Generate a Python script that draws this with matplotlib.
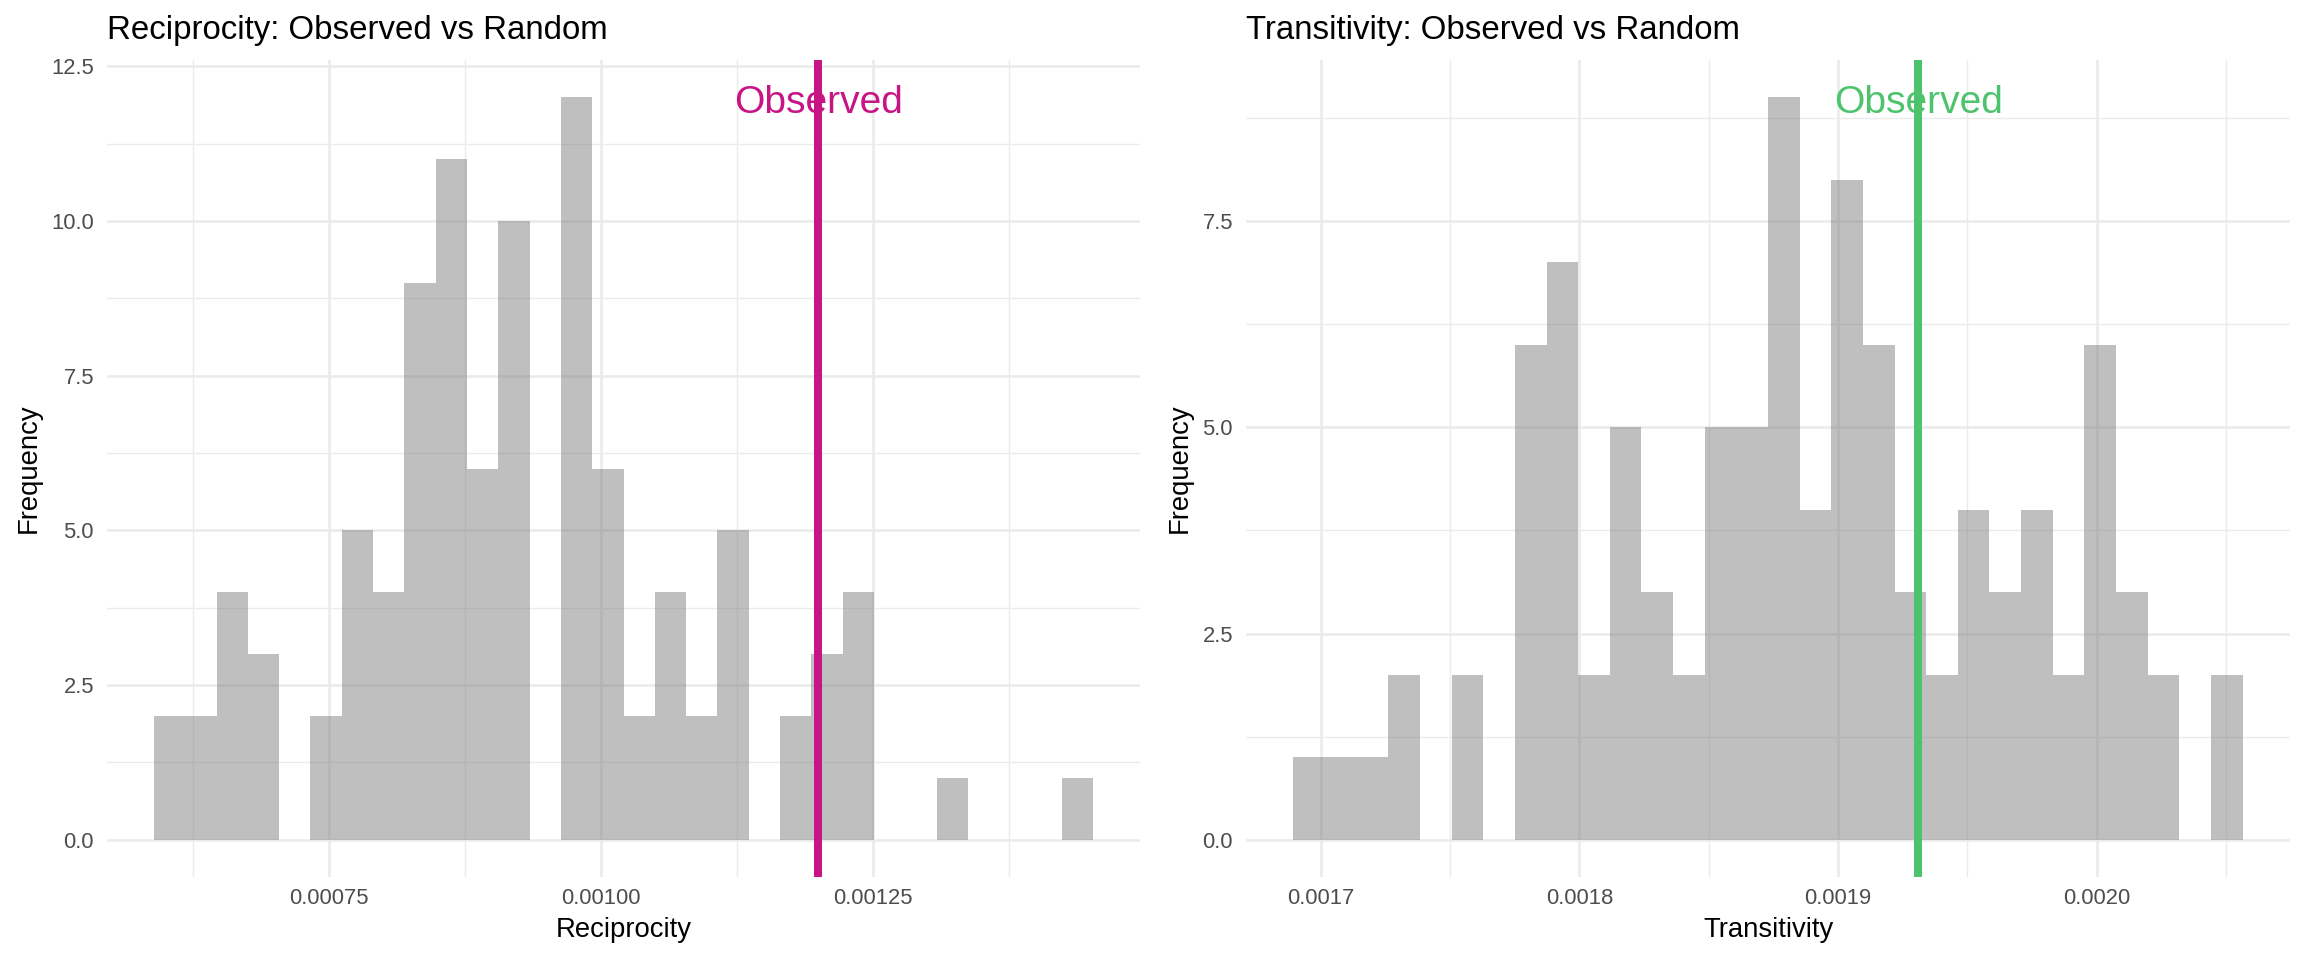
import numpy as np
import matplotlib
matplotlib.use("Agg")
import matplotlib.pyplot as plt
from matplotlib.ticker import MultipleLocator, FormatStrFormatter

plt.rcParams['font.family'] = ['Liberation Sans', 'DejaVu Sans']

# ---------------------------- data ----------------------------
# reciprocity histogram: 30 bins
recip_start = 0.0005894
recip_width = 2.8777e-5
recip_counts = [2, 2, 4, 3, 0, 2, 5, 4, 9, 11, 6, 10, 0, 12, 6,
                2, 4, 2, 5, 0, 2, 3, 4, 0, 0, 1, 0, 0, 0, 1]
recip_observed = 0.0012

# transitivity histogram: 30 bins
trans_start = 0.0016895
trans_width = 1.2227e-5
trans_counts = [1, 1, 1, 2, 0, 2, 0, 6, 7, 2, 5, 3, 2, 5, 5,
                9, 4, 8, 6, 3, 2, 4, 3, 4, 2, 6, 3, 2, 0, 2]
trans_observed = 0.001931

panels = [
    dict(title="Reciprocity: Observed vs Random", xlabel="Reciprocity",
         start=recip_start, width=recip_width, counts=recip_counts,
         obs=recip_observed, color="#C71585", xmajor=0.00025, xfmt="%.5f"),
    dict(title="Transitivity: Observed vs Random", xlabel="Transitivity",
         start=trans_start, width=trans_width, counts=trans_counts,
         obs=trans_observed, color="#4DC36E", xmajor=0.0001, xfmt="%.4f"),
]

# ---------------------------- figure ----------------------------
fig = plt.figure(figsize=(12.8, 960 / 180), dpi=180)
W, H = 2304, 960
boxes = [(107, 60, 1140, 877), (1246, 60, 2290, 877)]

for p, (x0, y0, x1, y1) in zip(panels, boxes):
    ax = fig.add_axes([x0 / W, 1 - y1 / H, (x1 - x0) / W, (y1 - y0) / H])
    counts = np.array(p["counts"])
    edges = p["start"] + p["width"] * np.arange(len(counts) + 1)

    ax.bar(edges[:-1], counts, width=p["width"], align="edge",
           color="gray", alpha=0.5, linewidth=0, zorder=2)
    ax.axvline(p["obs"], color=p["color"], linewidth=3.2, zorder=3)
    ax.annotate("Observed", (p["obs"], counts.max()), xytext=(0, -2.2),
                textcoords="offset points", color=p["color"],
                fontsize=15.6, ha="center", va="center", zorder=4)

    # ggplot-like expansion
    xr = edges[-1] - edges[0]
    ax.set_xlim(edges[0] - 0.05 * xr, edges[-1] + 0.05 * xr)
    ymax = counts.max()
    ax.set_ylim(-0.05 * ymax, 1.05 * ymax)

    ax.xaxis.set_major_locator(MultipleLocator(p["xmajor"]))
    ax.xaxis.set_minor_locator(MultipleLocator(p["xmajor"] / 2))
    ax.xaxis.set_major_formatter(FormatStrFormatter(p["xfmt"]))
    ax.yaxis.set_major_locator(MultipleLocator(2.5))
    ax.yaxis.set_minor_locator(MultipleLocator(1.25))
    ax.yaxis.set_major_formatter(FormatStrFormatter("%.1f"))

    ax.grid(True, which="major", color="#EBEBEB", linewidth=1.07, zorder=0)
    ax.grid(True, which="minor", color="#EBEBEB", linewidth=0.53, zorder=0)
    ax.set_axisbelow(True)
    for s in ax.spines.values():
        s.set_visible(False)
    ax.tick_params(which="both", length=0, labelsize=8.8, labelcolor="#4D4D4D")
    ax.tick_params(axis="x", pad=4.6)
    ax.tick_params(axis="y", pad=5.2)

    ax.set_title(p["title"], loc="left", fontsize=13.2, pad=8.4)
    ax.set_xlabel(p["xlabel"], fontsize=11, labelpad=3)
    ax.set_ylabel("Frequency", fontsize=11, labelpad=4)

fig.savefig("out.png", dpi=180)
